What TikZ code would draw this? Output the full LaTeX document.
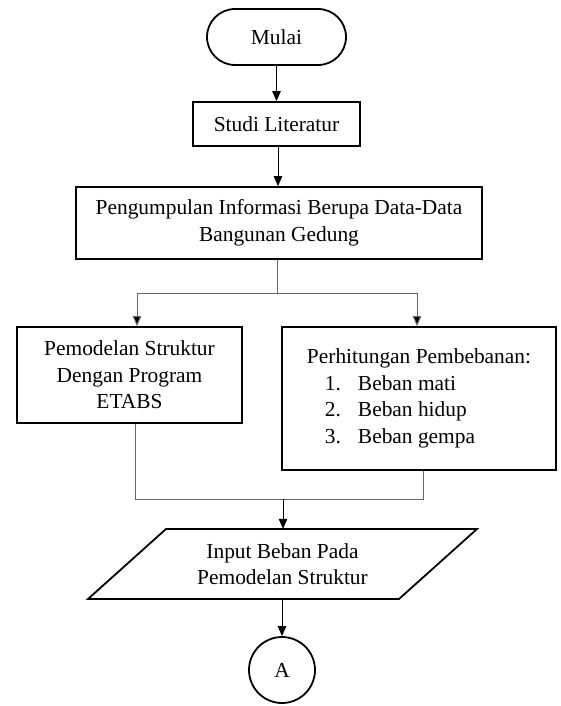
\documentclass[tikz,border=0pt]{standalone}
\usepackage{fontspec}
\setmainfont{Liberation Serif}
\usetikzlibrary{arrows.meta}
\begin{document}
\begin{tikzpicture}[x=1pt,y=-1pt,
  every node/.style={font=\fontsize{21.4}{26.5}\selectfont, inner sep=0pt, align=center},
  box/.style={draw=black, line width=1.8pt, rectangle},
  term/.style={draw=black, line width=1.8pt, rectangle, rounded corners=28pt},
  conn/.style={draw=black, line width=1pt},
  gline/.style={draw=black!60, line width=1pt},
  arr/.style={conn, -{Triangle[length=10pt,width=8.5pt]}},
  garr/.style={gline, -{Triangle[length=10pt,width=8.5pt,fill=black]}}]
\useasboundingbox (0,0) rectangle (560,706);
\fill[white] (0,0) rectangle (560,706);

\node[term, minimum width=139pt, minimum height=56pt] (mulai) at (276.5,37) {Mulai};
\node[box, minimum width=167pt, minimum height=44pt] (studi) at (276.5,124) {Studi Literatur};
\node[box, minimum width=406pt, minimum height=72pt] (kumpul) at (279,223) {Pengumpulan Informasi Berupa Data-Data\\Bangunan Gedung};
\node[box, minimum width=225pt, minimum height=96pt] (model) at (129.5,375) {Pemodelan Struktur\\Dengan Program\\ETABS};
\node[box, minimum width=274pt, minimum height=143pt, align=left] (beban) at (419,398.5)
  {Perhitungan Pembebanan:\\
   \hspace*{18pt}\makebox[33pt][l]{1.}Beban mati\\
   \hspace*{18pt}\makebox[33pt][l]{2.}Beban hidup\\
   \hspace*{18pt}\makebox[33pt][l]{3.}Beban gempa};
\node[minimum width=311pt, minimum height=70pt] (input) at (282.5,564) {Input Beban Pada\\Pemodelan Struktur};
\draw[line width=1.8pt, line join=miter] (166,529) -- (477,529) -- (399,599) -- (88,599) -- cycle;
\node[draw=black, line width=1.8pt, circle, minimum size=66pt] (a) at (282,670) {A};

\coordinate (sl) at (137,293);
\coordinate (sr) at (417,293);
\coordinate (ml) at (135,499);
\coordinate (mr) at (423,499);
\coordinate (merge) at (283,499);
\coordinate (outb) at (282,599);

\draw[arr] (mulai.south) -- (studi.north);
\draw[arr] ([xshift=1.5pt]studi.south) -- ([xshift=1.5pt]studi.south |- kumpul.north);
\draw[gline] ([xshift=-1.5pt]kumpul.south) -- ([xshift=-1.5pt]kumpul.south |- sl);
\draw[gline] (sl) -- (sr);
\draw[garr] (sl) -- (sl |- model.north);
\draw[garr] (sr) -- (sr |- beban.north);
\draw[gline] (ml |- model.south) -- (ml) -- (mr) -- (mr |- beban.south);
\draw[arr] (merge) -- (merge |- input.north);
\draw[arr] (outb) -- (a.north);
\end{tikzpicture}
\end{document}
